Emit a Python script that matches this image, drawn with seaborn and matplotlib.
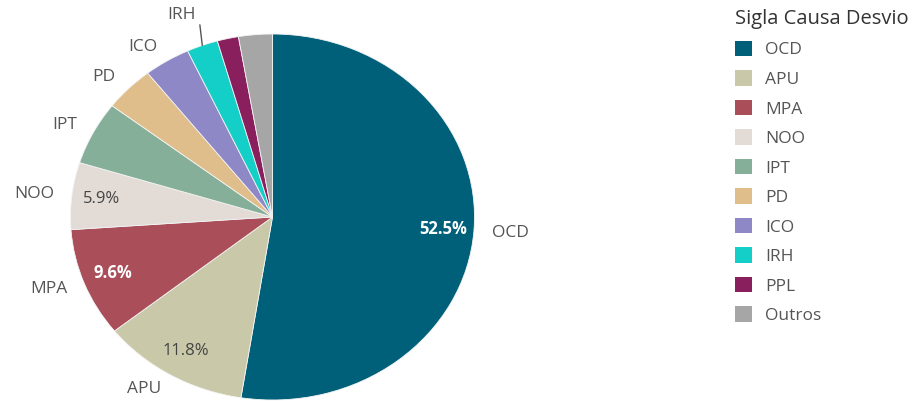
import numpy as np
import matplotlib
matplotlib.use("Agg")
import matplotlib.pyplot as plt
import seaborn as sns

categories = ["OCD", "APU", "MPA", "NOO", "IPT", "PD", "ICO", "IRH", "PPL", "Outros"]
values = [52.5, 11.8, 9.6, 5.9, 5.6, 4.0, 3.7, 2.5, 1.7, 2.7]
colors = ["#00607A", "#C9C9A9", "#AA4E59", "#E2DBD6", "#86AF99",
          "#E0BE8B", "#8E88C7", "#14CFC8", "#891F5C", "#A6A6A6"]
show_label = ["OCD", "APU", "MPA", "NOO", "IPT", "PD", "ICO"]
show_pct = ["OCD", "APU", "MPA", "NOO"]
pct_white = ["OCD", "MPA"]
legend_title = "Sigla Causa Desvio"

sns.set_theme(style="white")
plt.rcParams["font.family"] = ["Open Sans", "DejaVu Sans"]

W, H = 920, 401
fig = plt.figure(figsize=(W / 100, H / 100), dpi=100)

cx, cy, rx, ry = 272.5, 217.0, 202.0, 183.0
L = 1.3
ax = fig.add_axes([(cx - L * rx) / W, (H - cy - L * ry) / H, 2 * L * rx / W, 2 * L * ry / H])

labels_out = [c if c in show_label else "" for c in categories]
lab_fs = 12.5

wedges, texts = ax.pie(values, colors=colors, startangle=90, counterclock=False,
                       labels=labels_out, labeldistance=1.09,
                       wedgeprops=dict(linewidth=0.6, edgecolor="#f4f4f4"),
                       textprops=dict(fontsize=lab_fs, color="#555555"))
ax.set_aspect("auto")
ax.set_xlim(-L, L)
ax.set_ylim(-L, L)
ax.axis("off")

for c, v, w in zip(categories, values, wedges):
    mid = np.deg2rad((w.theta1 + w.theta2) / 2)
    if c in show_pct:
        k = 0.85
        col = "white" if c in pct_white else "#444444"
        fw = "bold" if c in pct_white else "normal"
        ax.text(k * np.cos(mid), k * np.sin(mid), f"{v:.1f}%", ha="center", va="center",
                fontsize=12, color=col, fontweight=fw)
    if c == "IRH":
        x0, y0 = 1.0 * np.cos(mid), 1.0 * np.sin(mid)
        x1, y1 = 1.0 * np.cos(mid) - 0.012, 1.12 * np.sin(mid)
        ax.plot([x0, x1], [y0, y1], color="#555555", lw=1.0, clip_on=False)
        ax.text(x1 - 0.02, y1 + 0.01, c, ha="right", va="bottom", fontsize=lab_fs, color="#555555")

leg = fig.legend(wedges, categories, loc="upper left", bbox_to_anchor=(728 / W, 1.0 - 2 / H),
                 frameon=False, title=legend_title, fontsize=12.5,
                 handlelength=1.0, handleheight=1.0, labelspacing=0.68,
                 handletextpad=0.75, borderaxespad=0.0, alignment="left")
leg.get_title().set_fontsize(14.5)
leg.get_title().set_color("#333333")
for t in leg.get_texts():
    t.set_color("#555555")
for h in leg.legend_handles:
    h.set_linewidth(0)

fig.savefig("out.png", dpi=100)
